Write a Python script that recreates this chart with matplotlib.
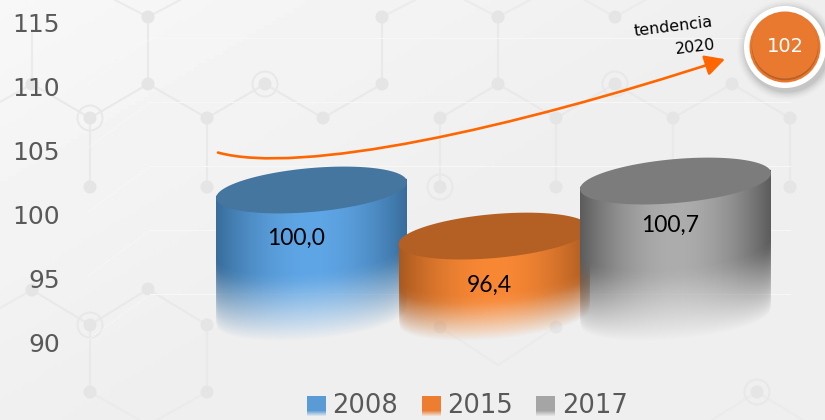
import matplotlib
matplotlib.use('Agg')
import matplotlib.pyplot as plt
import numpy as np
from matplotlib.patches import Circle, FancyArrowPatch
from matplotlib.path import Path

years = ['2008', '2015', '2017']
values = [100.0, 96.4, 100.7]
value_labels = ['100,0', '96,4', '100,7']
y_ticks = [90, 95, 100, 105, 110, 115]

# trend arrow, bezier control values on the y scale
trend_x = [218, 300, 510, 725]
trend_y = [104.8, 103.05, 106.6, 112.1]
trend_label = 'tendencia\n2020'
trend_value = '102'

# pixel scale of the picture
W, H = 825, 420
PX_90 = 342
PX_UNIT = 12.8

def v2p(v):
    return PX_90 - (np.asarray(v) - 90) * PX_UNIT

def p2v(p):
    return 90 + (PX_90 - np.asarray(p)) / PX_UNIT

centers = [311.5, 494, 675.5]
label_dx = [-15, -5, -5]
label_dy = [48, 49, 44]
edge_cols = ['#386c9b', '#a9591f', '#5c5c5c']
mid_cols = ['#5fa6e6', '#f98835', '#adadad']
top_cols = ['#44769f', '#b46024', '#7c7c7c']
leg_cols = ['#5b9bd5', '#ed7d31', '#a5a5a5']

fig = plt.figure(figsize=(W / 100, H / 100), dpi=100)

# background, in pixel coordinates
bg = fig.add_axes([0, 0, 1, 1], zorder=1)
bg.set_xlim(0, W)
bg.set_ylim(H, 0)
bg.axis('off')
xx, yy = np.meshgrid(np.linspace(0, 1, 200), np.linspace(0, 1, 100))
shade = np.clip(0.97 - 0.035 * xx - 0.03 * yy, 0.935, 1)
bg.imshow(shade, cmap='gray', vmin=0, vmax=1, extent=(0, W, H, 0), aspect='auto', zorder=0)

nodes = {
    'a': (148, 17), 'b': (148, 84), 'c': (265, 84), 'd': (207, 118), 'e': (323, 118),
    'f': (382, 84), 'g': (382, 17), 'h': (90, 118), 'i': (90, 187), 'j': (207, 187),
    'k': (32, 84), 'l': (32, 290), 'm': (90, 325), 'n': (148, 289), 'o': (207, 325),
    'p': (90, 392), 'q': (207, 392), 's': (498, 17), 't': (615, 17),
    'u': (498, 84), 'v': (440, 118), 'w': (556, 118), 'x': (615, 84), 'y': (673, 118),
    'z': (732, 84), 'A': (790, 118), 'B': (790, 187), 'C': (556, 187), 'D': (673, 187),
    'E': (440, 187), 'F': (440, 327), 'G': (556, 327), 'H': (757, 392),
}
edges = ['ab', 'bd', 'bh', 'dc', 'ce', 'ef', 'fg', 'hi', 'dj', 'hk', 'lm', 'mn',
         'no', 'oq', 'mp', 'su', 'uv', 'uw', 'wx', 'xy', 'yz', 'zA', 'AB',
         'wC', 'yD', 'vE']
extra_segs = [(148, 17, 115, 0), (148, 17, 180, 0), (382, 17, 415, 0), (498, 17, 465, 0),
              (498, 17, 530, 0), (615, 17, 585, 0), (615, 17, 645, 0), (90, 392, 148, 425),
              (207, 392, 148, 425), (757, 392, 712, 420), (757, 392, 803, 420), (32, 290, 0, 308),
              (32, 84, 32, 30), (32, 84, 0, 102), (440, 327, 498, 365), (556, 327, 498, 365)]
for e in edges:
    (x0, y0), (x1, y1) = nodes[e[0]], nodes[e[1]]
    bg.plot([x0, x1], [y0, y1], color='#e9e9e9', lw=1.5, zorder=1, solid_capstyle='round')
for x0, y0, x1, y1 in extra_segs:
    bg.plot([x0, x1], [y0, y1], color='#ebebeb', lw=1.5, zorder=1)
for x, y in nodes.values():
    bg.add_patch(Circle((x, y), 6.5, color='#e5e5e5', lw=0, zorder=2))
for name in ['c', 'h', 'm', 'x', 'E', 'H']:
    x, y = nodes[name]
    bg.add_patch(Circle((x, y), 12.5, fc='none', ec='#e8e8e8', lw=1.4, zorder=2))

# faint back wall lines and the dotted white streaks on the left
for py in v2p(np.array(y_ticks[1:])) + 16:
    bg.plot([150, 790], [py, py], color='#f7f7f7', lw=0.8, zorder=3)
    bg.plot([88, 152], [py + 46, py - 1], color='#fbfbfb', lw=0.8, ls=':', zorder=3)

# chart axes on top, y axis in real values
ax = fig.add_axes([0, 0, 1, 1], zorder=2)
ax.patch.set_alpha(0)
ax.set_xlim(0, W)
ax.set_ylim(p2v(H), p2v(0))
for s in ax.spines.values():
    s.set_visible(False)
ax.set_xticks([])
ax.set_yticks(y_ticks)
ax.tick_params(axis='y', length=0, pad=-43, labelsize=18, labelcolor='#595959')

A = 95.5      # half width of a cylinder
B = 22        # half height of the top ellipse
TILT = -0.084
BASE = 340

for i, v in enumerate(values):
    cx = centers[i]
    cy = float(v2p(v)) - 24
    px = np.arange(cx - A, cx + A + 1)
    py = np.arange(cy - B - 10, BASE + 12)
    gx, gy = np.meshgrid(px, py)
    u = np.clip((gx - cx) / A, -1, 1)
    front = cy + TILT * (gx - cx) + B * np.sqrt(1 - u ** 2)
    d = gy - front
    body = BASE - (cy + B)
    t = np.clip((d - 0.54 * body) / (0.46 * body), 0, 1)
    alpha = 0.93 * (1 - t) ** 0.95
    # soft step where the reflection starts
    step = np.clip((d - 0.54 * body + 8) / 8, 0, 1)
    alpha = 1 - step * (1 - alpha)
    alpha = np.where(d < -3, 0, alpha)
    w = 1 - np.abs(u) ** 1.9
    c0 = np.array(matplotlib.colors.to_rgb(edge_cols[i]))
    c1 = np.array(matplotlib.colors.to_rgb(mid_cols[i]))
    rgba = np.zeros(gx.shape + (4,))
    for k in range(3):
        rgba[..., k] = c0[k] + (c1[k] - c0[k]) * w
    rgba[..., 3] = alpha
    ax.imshow(rgba, extent=(px[0], px[-1], p2v(py[-1]), p2v(py[0])), aspect='auto',
              interpolation='bilinear', zorder=2 + i)
    a = np.linspace(0, 2 * np.pi, 200)
    ex = cx + A * np.cos(a)
    ey = cy + TILT * A * np.cos(a) + B * np.sin(a)
    ax.fill(ex, p2v(ey), color=top_cols[i], lw=0, zorder=2 + i)
    ax.text(cx + label_dx[i], p2v(cy + label_dy[i]), value_labels[i], ha='center', va='center',
            fontsize=16.5, family='Lato', color='black', zorder=6)
ax.set_xlim(0, W)
ax.set_ylim(p2v(H), p2v(0))

# trend arrow
path = Path(list(zip(trend_x, trend_y)), [Path.MOVETO, Path.CURVE4, Path.CURVE4, Path.CURVE4])
arrow = FancyArrowPatch(path=path, arrowstyle='-|>,head_length=0.8,head_width=0.42', mutation_scale=15,
                        color='#ff6600', lw=1.9, shrinkA=0, shrinkB=0, transform=ax.transData, zorder=7)
ax.add_patch(arrow)
ax.text(675, p2v(38), trend_label, ha='center', va='center', multialignment='right', rotation=7,
        fontsize=11.4, color='black', linespacing=1.6, zorder=7)

# badge
for r, al in zip(np.arange(50, 41, -1.5), [0.012, 0.018, 0.025, 0.03, 0.04, 0.05]):
    bg.add_patch(Circle((787, 50), r, color='black', alpha=al, lw=0, zorder=3))
bg.add_patch(Circle((785, 47), 41, color='white', lw=0, zorder=4))
bg.add_patch(Circle((785, 47), 35.5, color='#e9782d', lw=0, zorder=5))
bg.add_patch(Circle((785, 47), 33.3, color='#b4602a', lw=0, zorder=5))
bg.add_patch(Circle((785, 45.5), 33, color='#e8792e', lw=0, zorder=5))
bg.text(785, 47, trend_value, ha='center', va='center', color='white', fontsize=14, zorder=6)

# legend
swatch_x = [307, 422, 536]
text_x = [332, 447, 562]
for i, year in enumerate(years):
    c = np.array(matplotlib.colors.to_rgb(leg_cols[i]))
    sw = np.zeros((20, 1, 4))
    sw[..., :3] = c
    sw[:, 0, 3] = np.clip((20 - np.arange(20)) / 6, 0, 1)
    bg.imshow(sw, extent=(swatch_x[i], swatch_x[i] + 18.5, 416, 396), aspect='auto', zorder=4)
    bg.text(text_x[i], 406, year, ha='left', va='center', fontsize=18.5, color='#595959', zorder=4)
bg.set_xlim(0, W)
bg.set_ylim(H, 0)

fig.savefig('out.png', dpi=100)
